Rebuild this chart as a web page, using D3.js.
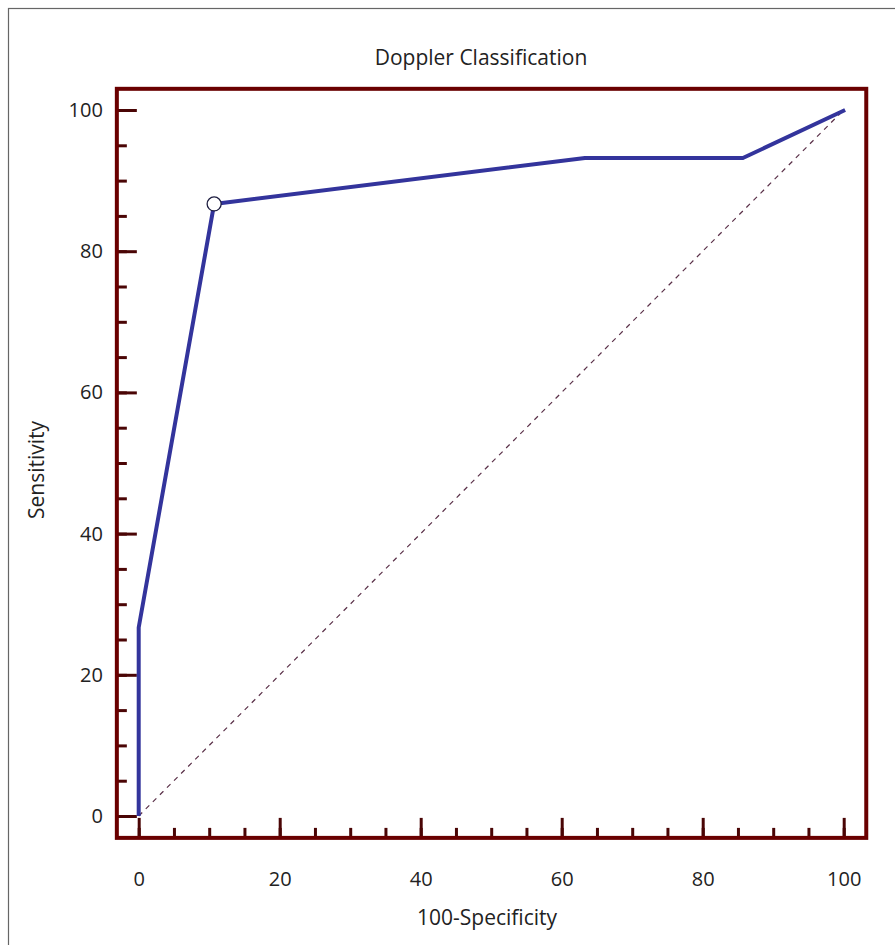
<!DOCTYPE html>
<html>
<head>
<meta charset="utf-8">
<script src="https://cdn.jsdelivr.net/npm/d3@7"></script>
<style>
  body { margin: 0; background: #fff; }
  text { font-family: "Open Sans", "Noto Sans", sans-serif; fill: #222; }
</style>
</head>
<body>
<div id="chart-area"></div>
<script>
// ROC curve points
var fpr = [0, 0, 10.7, 63.3, 85.7, 100.2];   // 100-Specificity
var tpr = [0, 26.7, 86.7, 93.2, 93.2, 100];  // Sensitivity
var cutoff = {x: 10.7, y: 86.7};              // the circled point
var majorTicks = [0, 20, 40, 60, 80, 100];
var minorTicks = d3.range(0, 101, 5);

var title = "Doppler Classification";
var xTitle = "100-Specificity";
var yTitle = "Sensitivity";

var frameColor = "#6a0000";
var tickColor = "#4a0505";

var svg = d3.select("#chart-area")
    .append("svg")
    .attr("width", 895)
    .attr("height", 945);

// outer border, runs off the right and bottom of the picture
svg.append("rect")
    .attr("x", 8.5).attr("y", 8.5)
    .attr("width", 900).attr("height", 950)
    .attr("fill", "none")
    .attr("stroke", "#666")
    .attr("stroke-width", 1.2);

var x = d3.scaleLinear().domain([0, 100]).range([138.7, 843.7]);
var y = d3.scaleLinear().domain([0, 100]).range([816, 110]);

var frameL = x(-3.1), frameR = x(103.2), frameT = y(103), frameB = y(-3.1);

// ticks
var yMinor = svg.append("g")
    .attr("transform", "translate(" + frameL + ",0)")
    .call(d3.axisLeft(y).tickValues(minorTicks).tickSize(-10).tickFormat(""));
var yMajor = svg.append("g")
    .attr("transform", "translate(" + frameL + ",0)")
    .call(d3.axisLeft(y).tickValues(majorTicks).tickSize(-20).tickPadding(14).tickFormat(d3.format("d")));
var xMinor = svg.append("g")
    .attr("transform", "translate(0," + frameB + ")")
    .call(d3.axisBottom(x).tickValues(minorTicks).tickSize(-10).tickFormat(""));
var xMajor = svg.append("g")
    .attr("transform", "translate(0," + frameB + ")")
    .call(d3.axisBottom(x).tickValues(majorTicks).tickSize(-20).tickPadding(34).tickFormat(d3.format("d")));

[yMinor, yMajor, xMinor, xMajor].forEach((g) => {
    g.select(".domain").remove();
    g.selectAll(".tick line").attr("stroke", tickColor).attr("stroke-width", 3);
    g.selectAll(".tick text")
        .attr("font-size", 20)
        .attr("font-family", "Open Sans, Noto Sans, sans-serif")
        .attr("fill", "#222");
});

// diagonal reference line
svg.append("line")
    .attr("x1", x(0)).attr("y1", y(0))
    .attr("x2", x(100)).attr("y2", y(100))
    .attr("stroke", "#5a3048")
    .attr("stroke-width", 1.2)
    .attr("stroke-dasharray", "5,5");

// ROC curve
var line = d3.line()
    .x((d) => x(d[0]))
    .y((d) => y(d[1]));

svg.append("path")
    .datum(d3.zip(fpr, tpr))
    .attr("d", line)
    .attr("fill", "none")
    .attr("stroke", "#33349c")
    .attr("stroke-width", 4)
    .attr("stroke-linejoin", "round");

svg.append("circle")
    .attr("cx", x(cutoff.x))
    .attr("cy", y(cutoff.y))
    .attr("r", 7)
    .attr("fill", "#fff")
    .attr("stroke", "#1d1d40")
    .attr("stroke-width", 1.3);

// frame
svg.append("rect")
    .attr("x", frameL).attr("y", frameT)
    .attr("width", frameR - frameL).attr("height", frameB - frameT)
    .attr("fill", "none")
    .attr("stroke", frameColor)
    .attr("stroke-width", 4);

// titles
svg.append("text")
    .attr("x", 481).attr("y", 65)
    .attr("text-anchor", "middle")
    .attr("font-size", 21)
    .text(title);

svg.append("text")
    .attr("x", 487).attr("y", 925)
    .attr("text-anchor", "middle")
    .attr("font-size", 21)
    .text(xTitle);

svg.append("text")
    .attr("transform", "translate(44,470) rotate(-90)")
    .attr("text-anchor", "middle")
    .attr("font-size", 21)
    .text(yTitle);
</script>
</body>
</html>
